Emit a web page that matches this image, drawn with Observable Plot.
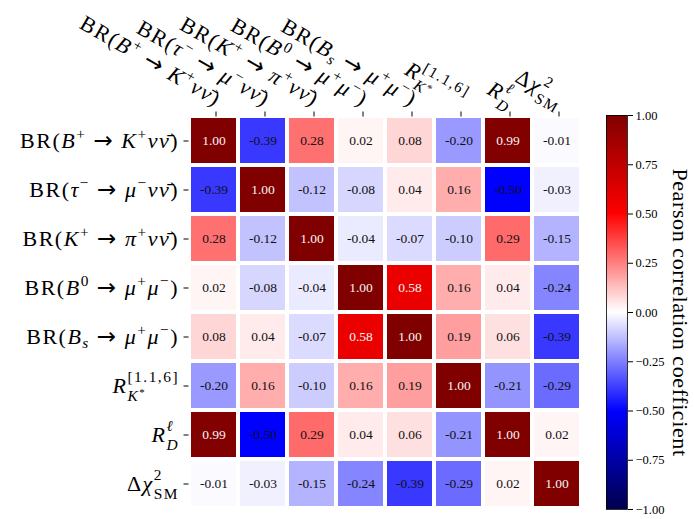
<!DOCTYPE html>
<html><head><meta charset="utf-8">
<script src="https://cdn.jsdelivr.net/npm/d3@7"></script>
<script src="https://cdn.jsdelivr.net/npm/@observablehq/plot@0.6"></script>
<style>
html,body{margin:0;padding:0;background:#fff;}
#wrap{position:relative;width:694px;height:519px;overflow:hidden;}
#wrap svg{position:absolute;top:0;}
</style></head><body><div id="wrap"></div>
<script>
// Labels (light markup: ~...~ italic, ^{...} superscript, _{...} subscript)
const labels = [
  "BR(~B~^{+} → ~K~^{+}~νν̄~)",
  "BR(~τ~^{−} → ~μ~^{−}~νν̄~)",
  "BR(~K~^{+} → ~π~^{+}~νν̄~)",
  "BR(~B~^{0} → ~μ~^{+}~μ~^{−})",
  "BR(~B~_{~s~} → ~μ~^{+}~μ~^{−})",
  "~R~_{~K~^{*}}^{[1.1,6]}",
  "~R~^{~ℓ~}_{~D~}",
  "Δ~χ~^{2}_{SM}"
];
const row1 = [1.00, -0.39, 0.28, 0.02, 0.08, -0.20, 0.99, -0.01];
const row2 = [-0.39, 1.00, -0.12, -0.08, 0.04, 0.16, -0.50, -0.03];
const row3 = [0.28, -0.12, 1.00, -0.04, -0.07, -0.10, 0.29, -0.15];
const row4 = [0.02, -0.08, -0.04, 1.00, 0.58, 0.16, 0.04, -0.24];
const row5 = [0.08, 0.04, -0.07, 0.58, 1.00, 0.19, 0.06, -0.39];
const row6 = [-0.20, 0.16, -0.10, 0.16, 0.19, 1.00, -0.21, -0.29];
const row7 = [0.99, -0.50, 0.29, 0.04, 0.06, -0.21, 1.00, 0.02];
const row8 = [-0.01, -0.03, -0.15, -0.24, -0.39, -0.29, 0.02, 1.00];
const corrRows = [row1, row2, row3, row4, row5, row6, row7, row8];
const cbarTicks = [-1, -0.75, -0.5, -0.25, 0, 0.25, 0.5, 0.75, 1];
const cbarLabel = "Pearson correlation coefficient";

const seismicDomain = [-1, -0.5, 0, 0.5, 1];
const seismicRange = ["#00004d", "#0000ff", "#ffffff", "#ff0000", "#800000"];
const FONT = "'Liberation Serif', 'DejaVu Serif', serif";
const LABEL_SIZE = 22;

const cells = [];
labels.forEach((r, i) => labels.forEach((c, j) => cells.push({row: r, col: c, v: corrRows[i][j]})));

const colorOpts = {type: "linear", domain: seismicDomain, range: seismicRange, interpolate: "rgb"};

const main = Plot.plot({
  width: 600, height: 519,
  marginLeft: 188.5, marginRight: 19.5, marginTop: 115.5, marginBottom: 11.5,
  style: {fontFamily: FONT, background: "transparent", color: "black"},
  x: {type: "band", domain: labels, padding: 0},
  y: {type: "band", domain: labels, padding: 0},
  color: colorOpts,
  marks: [
    Plot.cell(cells, {x: "col", y: "row", fill: "v", inset: 2}),
    Plot.text(cells.filter(d => d.v < 0.5), {x: "col", y: "row", text: d => d.v.toFixed(2), fill: "#111", fontSize: 13.5}),
    Plot.text(cells.filter(d => d.v >= 0.5), {x: "col", y: "row", text: d => d.v.toFixed(2), fill: "#f4f4f4", fontSize: 13.5}),
    Plot.axisX({anchor: "top", tickSize: 5, tickPadding: 4, tickRotate: 30, textAnchor: "end", lineAnchor: "bottom", dx: 2, fontSize: LABEL_SIZE, label: null}),
    Plot.axisY({anchor: "left", tickSize: 5, tickPadding: 5, fontSize: LABEL_SIZE, label: null})
  ]
});

const steps = d3.range(-1, 1, 0.005);
const cbar = Plot.plot({
  width: 94, height: 519,
  marginLeft: 6, marginRight: 67, marginTop: 115, marginBottom: 10,
  style: {fontFamily: FONT, background: "transparent", color: "black"},
  y: {domain: [-1, 1]},
  color: colorOpts,
  marks: [
    Plot.rect(steps, {y1: d => d, y2: d => d + 0.0055, fill: d => d + 0.0025, shapeRendering: "crispEdges"}),
    Plot.frame({stroke: "black", strokeWidth: 0.8}),
    Plot.axisY({anchor: "right", ticks: cbarTicks, tickSize: 5, tickPadding: 3, tickFormat: d3.format(".2f"), fontSize: 12.5, label: null}),
    Plot.text([cbarLabel], {frameAnchor: "right", textAnchor: "middle", lineAnchor: "middle", dx: 53, rotate: 90, fontSize: 22})
  ]
});

const wrap = document.getElementById("wrap");
main.style.left = "0px";
cbar.style.left = "600px";
wrap.appendChild(main);
wrap.appendChild(cbar);
cbar.querySelectorAll("text").forEach(t => { if (t.textContent === cbarLabel) t.style.letterSpacing = "0.6px"; });

// rich-text rendering of tick labels
const NS = "http://www.w3.org/2000/svg";
function parseRich(s) {
  let i = 0;
  function group() {
    const out = []; let italic = false; let buf = "";
    const flush = () => { if (buf) { out.push({type: "t", text: buf, italic}); buf = ""; } };
    while (i < s.length) {
      const c = s[i];
      if (c === "}") { i++; break; }
      if (c === "~") { flush(); italic = !italic; i++; continue; }
      if ((c === "^" || c === "_") && s[i + 1] === "{") {
        flush(); i += 2;
        out.push({type: c === "^" ? "sup" : "sub", children: group()});
        continue;
      }
      buf += c; i++;
    }
    flush();
    return out;
  }
  return group();
}
function renderRich(textEl, size) {
  const nodes = parseRich(textEl.textContent);
  while (textEl.firstChild) textEl.removeChild(textEl.firstChild);
  textEl.style.letterSpacing = "1.5px";
  let cur = 0;
  const stacks = [];
  function addSpan(text, italic, base, sz, family) {
    const t = document.createElementNS(NS, "tspan");
    t.textContent = text;
    t.setAttribute("font-size", sz.toFixed(2));
    t.setAttribute("font-style", italic ? "italic" : "normal");
    if (family) t.setAttribute("font-family", family);
    const d = base - cur;
    if (Math.abs(d) > 1e-6) t.setAttribute("dy", d.toFixed(2));
    cur = base;
    textEl.appendChild(t);
    return t;
  }
  function emit(list, base, sz, depth) {
    const all = [];
    let prev = null;
    list.forEach((n, k) => {
      if (n.type === "t") {
        const parts = n.text.split(/(→)/);
        for (const p of parts) {
          if (!p) continue;
          if (p === "→") all.push(addSpan(p, false, base, sz * 1.05, "'DejaVu Sans', sans-serif"));
          else all.push(addSpan(p, n.italic, base, sz));
        }
        prev = null;
      } else {
        const sup = n.type === "sup";
        const other = (list[k + 1] && list[k + 1].type !== "t" && list[k + 1].type !== n.type) || (prev && prev.type !== n.type);
        let off;
        if (depth > 0) off = sup ? base - 0.3 * sz : base + 0.15 * sz;
        else off = sup ? base - (other ? 0.5 : 0.4) * sz : base + (other ? 0.36 : 0.2) * sz;
        const got = emit(n.children, off, sz * 0.7, depth + 1);
        const stacked = prev && prev.type !== n.type;
        if (stacked && got.length) stacks.push({first: got[0], prev: prev.tspans});
        all.push(...got);
        prev = stacked ? null : {type: n.type, tspans: got};
      }
    });
    return all;
  }
  emit(nodes, 0, size, 0);
  for (const s of stacks) {
    const w = s.prev.reduce((a, t) => a + t.getComputedTextLength(), 0);
    s.first.setAttribute("dx", (-w).toFixed(2));
  }
}
main.querySelectorAll('[aria-label="x-axis tick label"] text').forEach(t => renderRich(t, LABEL_SIZE));
main.querySelectorAll('[aria-label="y-axis tick label"] text').forEach(t => renderRich(t, LABEL_SIZE));
</script>
</body></html>
